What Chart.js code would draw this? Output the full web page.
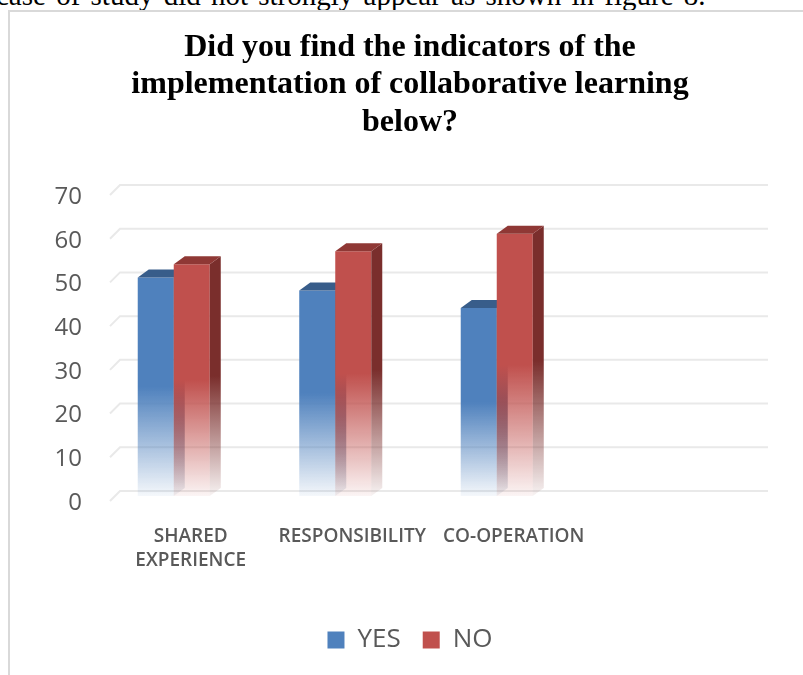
<!DOCTYPE html>
<html lang="en">
<head>
  <meta charset="UTF-8" />
  <title>Indicators of collaborative learning</title>
  <style>
    * {
      margin: 0;
      padding: 0;
      box-sizing: border-box;
    }

    body {
      width: 803px;
      height: 675px;
      overflow: hidden;
      background: #fff;
      position: relative;
    }

    .caption {
      position: absolute;
      left: -4px;
      top: -19px;
      font-family: 'Liberation Serif', 'Times New Roman', serif;
      font-size: 29px;
      line-height: 1;
      word-spacing: 3px;
      white-space: nowrap;
      color: #000;
    }

    .frame {
      position: absolute;
      left: 8px;
      top: 10px;
      width: 900px;
      height: 700px;
      border-left: 2px solid #d9d9d9;
      border-top: 2px solid #d9d9d9;
      background: #fff;
    }

    .chart-box {
      position: relative;
      width: 800px;
      height: 663px;
    }
  </style>
</head>

<body>
  <div class="caption">case of study did not strongly appear as shown in figure 8.</div>
  <div class="frame">
    <div class="chart-box">
      <canvas id="chartIndicadores"></canvas>
    </div>
  </div>

  <script src="https://cdn.jsdelivr.net/npm/chart.js"></script>
  <script>
    const titleLines = ['Did you find the indicators of the', 'implementation of collaborative learning', 'below?'];
    const categories = [['SHARED', 'EXPERIENCE'], 'RESPONSIBILITY', 'CO-OPERATION', ''];
    const yesValues = [50, 47, 43];
    const noValues = [53, 56, 60];
    const yMin = 0;
    const yMax = 70;
    const yStep = 10;

    // look of the fake 3D columns
    const depthX = 11;
    const depthY = 8;
    const shiftX = -17;
    const faces = {
      YES: { front: '79,129,189', side: '44,77,117', top: '56,93,138' },
      NO: { front: '192,80,77', side: '122,46,44', top: '143,56,53' }
    };

    function fade(ctx, top, base, rgb) {
      const g = ctx.createLinearGradient(0, top, 0, base);
      g.addColorStop(0, `rgba(${rgb},1)`);
      g.addColorStop(0.5, `rgba(${rgb},1)`);
      g.addColorStop(1, `rgba(${rgb},0.06)`);
      return g;
    }

    function poly(ctx, pts, fill) {
      ctx.beginPath();
      ctx.moveTo(pts[0][0], pts[0][1]);
      pts.slice(1).forEach(p => ctx.lineTo(p[0], p[1]));
      ctx.closePath();
      ctx.fillStyle = fill;
      ctx.fill();
    }

    const bars3d = {
      id: 'bars3d',
      beforeDatasetsDraw(chart) {
        const ctx = chart.ctx;
        const y = chart.scales.y;
        const { left, right } = chart.chartArea;

        // floor and back wall lines
        ctx.save();
        ctx.strokeStyle = '#e9e9e9';
        ctx.lineWidth = 2;
        y.ticks.forEach(t => {
          const py = y.getPixelForValue(t.value);
          ctx.beginPath();
          ctx.moveTo(left, py + 5);
          ctx.lineTo(left + 10, py - 5);
          ctx.lineTo(right + 12, py - 5);
          ctx.stroke();
        });

        const metas = chart.data.datasets.map((d, i) => chart.getDatasetMeta(i));
        categories.forEach((c, idx) => {
          metas.forEach(meta => {
            const el = meta.data[idx];
            if (!el) return;
            const f = faces[meta.label];
            const x0 = el.x - el.width / 2 + shiftX;
            const x1 = x0 + el.width;
            const top = el.y;
            const base = el.base;
            poly(ctx, [[x0, top], [x1, top], [x1, base], [x0, base]], fade(ctx, top, base, f.front));
            poly(ctx, [[x1, top], [x1 + depthX, top - depthY], [x1 + depthX, base - depthY], [x1, base]],
              fade(ctx, top - depthY, base, f.side));
            poly(ctx, [[x0, top], [x0 + depthX, top - depthY], [x1 + depthX, top - depthY], [x1, top]],
              `rgb(${f.top})`);
          });
        });
        ctx.restore();
        return false;
      }
    };

    const tickColor = '#595959';

    new Chart(document.getElementById('chartIndicadores'), {
      type: 'bar',
      data: {
        labels: categories,
        datasets: [
          { label: 'YES', data: yesValues, backgroundColor: '#4F81BD' },
          { label: 'NO', data: noValues, backgroundColor: '#C0504D' }
        ]
      },
      options: {
        responsive: true,
        maintainAspectRatio: false,
        animation: false,
        datasets: {
          bar: { categoryPercentage: 0.446, barPercentage: 1 }
        },
        layout: { padding: { left: 0, right: 0, top: 0, bottom: 12 } },
        scales: {
          x: {
            grid: { display: false, drawTicks: false },
            border: { display: false },
            ticks: {
              padding: 28,
              color: tickColor,
              maxRotation: 0,
              autoSkip: false,
              font: { family: 'Open Sans', size: 19, weight: '600', lineHeight: 1.3 }
            },
            afterFit: s => { s.height = 109; }
          },
          y: {
            min: yMin,
            max: yMax,
            grid: { display: false, drawTicks: false },
            border: { display: false },
            ticks: {
              stepSize: yStep,
              padding: 28,
              labelOffset: 7,
              color: tickColor,
              font: { family: 'Open Sans', size: 24 }
            },
            afterFit: s => { s.width = 100; }
          },
          yRight: {
            position: 'right',
            grid: { display: false, drawTicks: false },
            border: { display: false },
            ticks: { display: false },
            afterFit: s => { s.width = 54; }
          }
        },
        plugins: {
          title: {
            display: true,
            text: titleLines,
            color: '#000',
            font: { family: 'Liberation Serif', size: 32, weight: 'bold', lineHeight: 1.18 },
            padding: { top: 16.5, bottom: 48.2 }
          },
          legend: {
            position: 'bottom',
            labels: {
              boxWidth: 17,
              boxHeight: 17,
              padding: 22,
              color: tickColor,
              font: { family: 'Open Sans', size: 26 }
            }
          },
          tooltip: { enabled: false }
        }
      },
      plugins: [bars3d]
    });
  </script>
</body>

</html>
